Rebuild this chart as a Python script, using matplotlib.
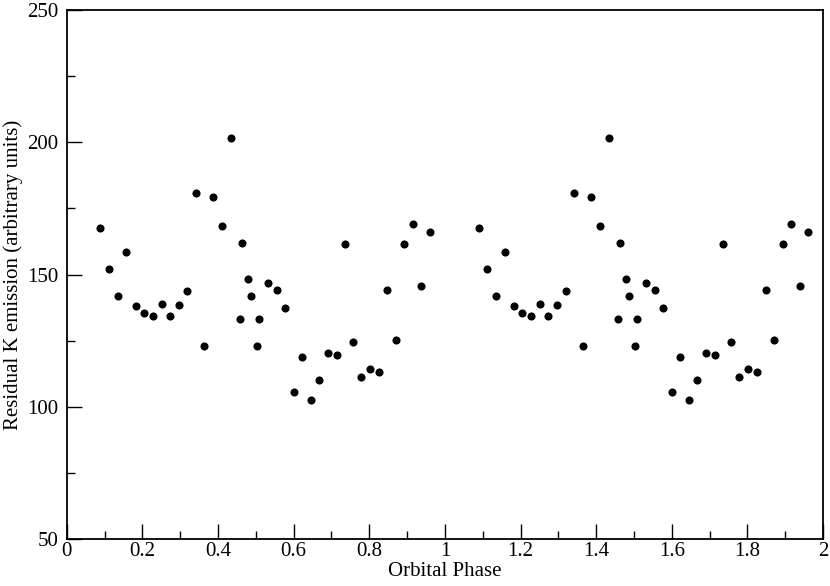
import numpy as np
import matplotlib
matplotlib.use("Agg")
import matplotlib.pyplot as plt

# phase and residual K emission (one cycle, shown twice)
phase = [0.089, 0.112, 0.135, 0.158, 0.182, 0.205, 0.228, 0.251, 0.274, 0.296,
         0.319, 0.342, 0.364, 0.387, 0.411, 0.434, 0.457, 0.463, 0.479, 0.486,
         0.502, 0.509, 0.532, 0.555, 0.578, 0.600, 0.623, 0.645, 0.667, 0.691,
         0.714, 0.736, 0.757, 0.779, 0.802, 0.825, 0.848, 0.871, 0.893, 0.915,
         0.938, 0.961]
kres = [167.7, 152.0, 141.8, 158.7, 138.2, 135.3, 134.2, 138.7, 134.2, 138.4,
        143.6, 180.8, 122.8, 179.4, 168.2, 201.8, 133.0, 162.0, 148.4, 141.8,
        122.9, 133.3, 146.9, 144.0, 137.5, 105.4, 118.7, 102.4, 110.3, 120.3,
        119.5, 161.5, 124.5, 111.1, 114.2, 113.1, 144.0, 125.2, 161.4, 169.2,
        145.7, 165.9]

x = np.concatenate([phase, np.array(phase) + 1])
y = np.concatenate([kres, kres])

plt.rcParams['font.family'] = ['Liberation Serif', 'DejaVu Serif']

fig = plt.figure(figsize=(8.3, 5.86), dpi=100)
ax = fig.add_axes([0.0804, 0.0802, 0.9112, 0.9027])
ax.scatter(x, y, s=34, color='black', zorder=3, linewidths=0)

ax.set_xlim(0, 2)
ax.set_ylim(50, 250)
ax.set_xticks(np.arange(0, 2.01, 0.2))
ax.set_xticklabels(['0', '0.2', '0.4', '0.6', '0.8', '1', '1.2', '1.4', '1.6', '1.8', '2'])
ax.set_xticks(np.arange(0.1, 2.0, 0.2), minor=True)
ax.set_yticks([50, 100, 150, 200, 250])
ax.set_yticks([75, 125, 175, 225], minor=True)
ax.tick_params(which='both', direction='in', top=False, right=False,
               labelsize=15, width=1.0)
ax.tick_params(which='major', length=11)
ax.tick_params(which='minor', length=5.5)
ax.tick_params(axis='x', pad=2)
ax.tick_params(axis='y', pad=6)
for sp in ax.spines.values():
    sp.set_linewidth(1.3)

ax.set_xlabel('Orbital Phase', fontsize=15, labelpad=1)
ax.set_ylabel('Residual K emission (arbitrary units)', fontsize=15, labelpad=3)

fig.savefig('out.png', dpi=100)
